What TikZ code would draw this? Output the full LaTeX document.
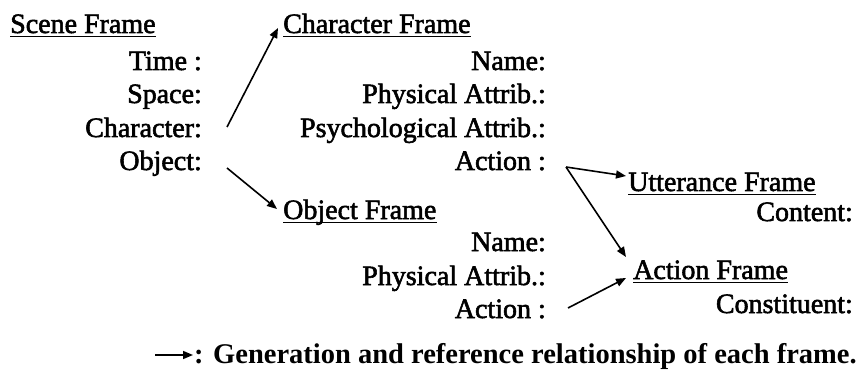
\documentclass[tikz,border=0pt]{standalone}
\usepackage{fontspec}
\setmainfont{Liberation Serif}[RawFeature={embolden=2}]
\newfontfamily\legendfont{Liberation Serif Bold}
\usetikzlibrary{arrows.meta,calc}

\tikzset{
  frametitle/.style={anchor=base west, inner sep=0pt},
  slot/.style={anchor=base east, inner sep=0pt},
  link/.style={line width=1.6pt, -{Triangle[length=10pt,width=8pt]}},
  uline/.style={line width=1.7pt},
}
% underline a frame title node
\newcommand{\ulnode}[1]{\draw[uline] ([yshift=-3.5pt]#1.base west) -- ([yshift=-3.5pt]#1.base east);}

\begin{document}
\begin{tikzpicture}[x=1pt,y=-1pt,font=\fontsize{28}{33.5}\selectfont]
\useasboundingbox (0,0) rectangle (858,371);

% Scene frame
\node[frametitle] (scene) at (10,33) {Scene Frame};
\ulnode{scene}
\node[slot] (stime)  at (202,70)  {Time :};
\node[slot] (sspace) at (202,103) {Space:};
\node[slot] (schar)  at (202,137) {Character:};
\node[slot] (sobj)   at (202,170) {Object:};

% Character frame
\node[frametitle] (charf) at (283,33) {Character Frame};
\ulnode{charf}
\node[slot] (cname)  at (546,70)  {Name:};
\node[slot] (cphys)  at (546,103) {Physical Attrib.:};
\node[slot] (cpsy)   at (546,137) {Psychological Attrib.:};
\node[slot] (cact)   at (546,170) {Action :};

% Object frame
\node[frametitle] (objf) at (283,219) {Object Frame};
\ulnode{objf}
\node[slot] (oname)  at (546,251) {Name:};
\node[slot] (ophys)  at (546,285) {Physical Attrib.:};
\node[slot] (oact)   at (546,318) {Action :};

% Utterance frame
\node[frametitle] (uttf) at (628,191) {Utterance Frame};
\ulnode{uttf}
\node[slot] (ucont) at (853,221) {Content:};

% Action frame
\node[frametitle] (actf) at (633,279) {Action Frame};
\ulnode{actf}
\node[slot] (acons) at (853,313) {Constituent:};

% Links between frames
\draw[link] ([shift={(25pt,10pt)}]schar.base east) -- ([shift={(-5pt,5pt)}]charf.base west);
\draw[link] ([shift={(25pt,2pt)}]sobj.base east) -- ([shift={(-6pt,10pt)}]objf.base west);
\draw[link] ([shift={(20pt,3pt)}]cact.base east) -- ([shift={(-2pt,15pt)}]uttf.base west);
\draw[link] ([shift={(20pt,3pt)}]cact.base east) -- ([shift={(-7pt,22pt)}]actf.base west);
\draw[link] ([shift={(22pt,10pt)}]oact.base east) -- ([shift={(-7pt,1pt)}]actf.base west);

% Legend
\node[frametitle,font=\legendfont\fontsize{28.5}{33.5}\selectfont] (legend) at (194,363)
  {: Generation and reference relationship of each frame.};
\coordinate (lstart) at (155,355);
\draw[link] (lstart) -- ([xshift=-1pt]lstart -| legend.west);
\end{tikzpicture}
\end{document}
